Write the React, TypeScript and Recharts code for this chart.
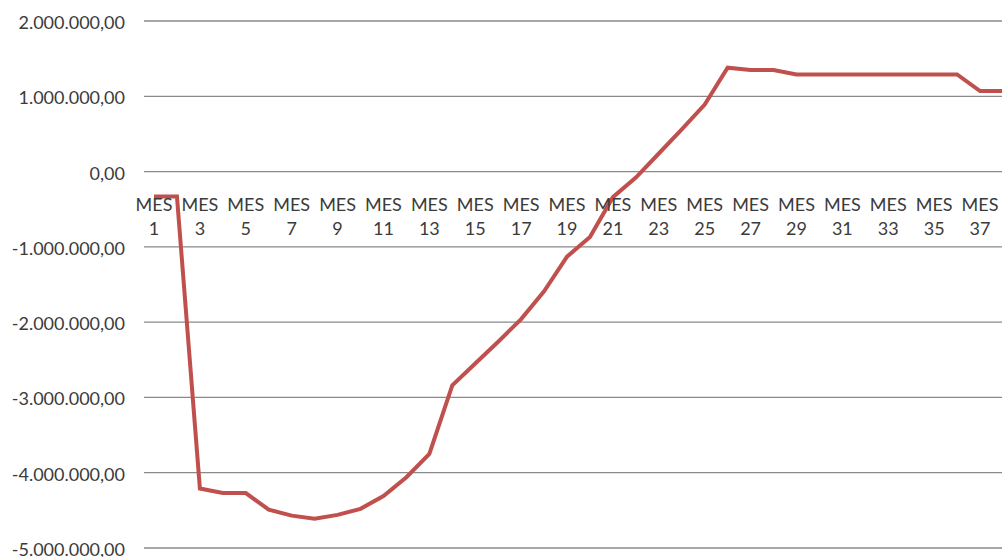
import React from 'react';
import { LineChart, Line, XAxis, YAxis, CartesianGrid } from 'recharts';

// Months of the projection
const months: string[] = Array.from({ length: 38 }, (_, i) => `MES ${i + 1}`);

// Accumulated cash flow per month
const saldo: number[] = [
  -330000, -330000, -4210000, -4270000, -4270000, -4490000, -4570000, -4610000,
  -4560000, -4480000, -4310000, -4060000, -3750000, -2840000, -2550000, -2260000,
  -1960000, -1590000, -1130000, -870000, -340000, -80000, 240000, 560000,
  890000, 1380000, 1350000, 1350000, 1290000, 1290000, 1290000, 1290000,
  1290000, 1290000, 1290000, 1290000, 1070000, 1070000,
];

const yTicks: number[] = [-5000000, -4000000, -3000000, -2000000, -1000000, 0, 1000000, 2000000];

const data = months.map((m, i) => ({ mes: m, saldo: saldo[i] }));

const Y_MIN = -5000000;
const Y_MAX = 2000000;
const CHART_W = 1025;
const CHART_H = 557;
const X_AXIS_H = 9;
const MARGIN = { top: 21, right: 12, bottom: 0, left: 0 };
const PLOT_H = CHART_H - MARGIN.top - MARGIN.bottom - X_AXIS_H;
const EDGE_PAD = 10;

const FONT = 'Lato, "Open Sans", sans-serif';
const TEXT = '#3b3b3b';

const formatEs = (v: number): string => {
  const neg = v < 0;
  const abs = Math.abs(v);
  const int = Math.floor(abs).toString().replace(/\B(?=(\d{3})+(?!\d))/g, '.');
  return `${neg ? '-' : ''}${int},00`;
};

// Category labels sit just under the zero line, split over two lines
const MonthTick = (props: any) => {
  const { x, y, payload } = props;
  const zeroY = y - (PLOT_H * (0 - Y_MIN)) / (Y_MAX - Y_MIN);
  const [word, num] = String(payload.value).split(' ');
  return (
    <g>
      <text x={x} y={zeroY + 39} textAnchor="middle" fontFamily={FONT} fontSize={18} fill={TEXT}>
        {word}
      </text>
      <text x={x} y={zeroY + 63} textAnchor="middle" fontFamily={FONT} fontSize={18} fill={TEXT}>
        {num}
      </text>
    </g>
  );
};

const ValueTick = (props: any) => {
  const { x, y, payload } = props;
  return (
    <text x={x} y={y + 8} textAnchor="end" fontFamily={FONT} fontSize={18} fill={TEXT}>
      {formatEs(payload.value)}
    </text>
  );
};

export default function App() {
  return (
    <div
      style={{
        position: 'absolute',
        left: 0,
        top: 0,
        width: 1002,
        height: 557,
        overflow: 'hidden',
        background: '#ffffff',
      }}
    >
      <LineChart width={CHART_W} height={CHART_H} data={data} margin={MARGIN}>
        <CartesianGrid vertical={false} stroke="#8a8a8a" strokeWidth={1.3} />
        <XAxis
          dataKey="mes"
          interval={1}
          axisLine={false}
          tickLine={false}
          tickSize={0}
          tickMargin={0}
          height={X_AXIS_H}
          padding={{ left: EDGE_PAD, right: EDGE_PAD }}
          tick={<MonthTick />}
        />
        <YAxis
          domain={[Y_MIN, Y_MAX]}
          ticks={yTicks}
          width={144}
          axisLine={false}
          tickLine={false}
          tickSize={0}
          tickMargin={19}
          tick={<ValueTick />}
        />
        <Line
          type="linear"
          dataKey="saldo"
          stroke="#C0504D"
          strokeWidth={4}
          dot={false}
          isAnimationActive={false}
        />
      </LineChart>
    </div>
  );
}
